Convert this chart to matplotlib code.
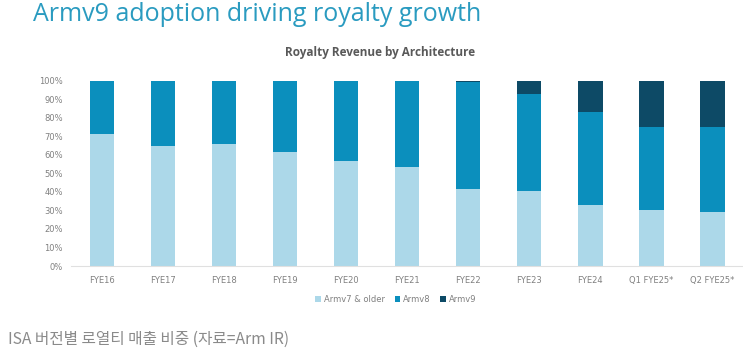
import matplotlib.pyplot as plt
from matplotlib.ticker import PercentFormatter

periods = ['FYE16', 'FYE17', 'FYE18', 'FYE19', 'FYE20', 'FYE21',
           'FYE22', 'FYE23', 'FYE24', 'Q1 FYE25*', 'Q2 FYE25*']
armv7 = [71.0, 64.7, 65.8, 61.5, 56.5, 53.3, 41.4, 40.5, 32.9, 30.2, 29.3]
armv8 = [29.0, 35.3, 34.2, 38.5, 43.5, 46.7, 57.7, 52.2, 50.1, 45.0, 45.9]
armv9 = [0.0, 0.0, 0.0, 0.0, 0.0, 0.0, 0.9, 7.3, 17.0, 24.8, 24.8]

c7, c8, c9 = '#acd8e9', '#0b8fbd', '#0d4a66'

fig = plt.figure(figsize=(7.43, 3.55), dpi=100)
ax = fig.add_axes([0.096, 0.2507, 0.904, 0.522])

x = range(len(periods))
w = 0.4
ax.bar(x, armv7, w, color=c7, label='Armv7 & older')
ax.bar(x, armv8, w, bottom=armv7, color=c8, label='Armv8')
bot9 = [a + b for a, b in zip(armv7, armv8)]
ax.bar(x, armv9, w, bottom=bot9, color=c9, label='Armv9')

ax.set_xlim(-0.5, len(periods) - 0.5)
ax.set_ylim(0, 100)
ax.set_yticks(range(0, 101, 10))
ax.yaxis.set_major_formatter(PercentFormatter(decimals=0))
ax.set_xticks(list(x))
ax.set_xticklabels(periods)
ax.tick_params(length=0, labelsize=6, colors='#808080', pad=7)
ax.tick_params(axis='y', pad=6)
for s in ['top', 'right', 'left']:
    ax.spines[s].set_visible(False)
ax.spines['bottom'].set_color('#e0e0e0')

fig.text(0.044, 0.958, 'Armv9 adoption driving royalty growth', fontsize=18,
         color='#2a9bc0', family='Open Sans', va='center', ha='left')
fig.text(0.512, 0.853, 'Royalty Revenue by Architecture', fontsize=8.5,
         fontweight='bold', color='#595959', family='Open Sans', va='center', ha='center')

ax.legend(loc='center', bbox_to_anchor=(0.483, -0.18), ncol=3, frameon=False,
          fontsize=6, labelcolor='#808080', handlelength=0.7, handleheight=0.7,
          columnspacing=1.2, handletextpad=0.3)

fig.text(0.011, 0.045, 'ISA 버전별 로열티 매출 비중 (자료=Arm IR)', fontsize=11.3,
         color='#8a8a8a', family=['Noto Sans CJK KR', 'DejaVu Sans'],
         fontweight='light', va='center', ha='left')

fig.savefig('out.png', dpi=100)
